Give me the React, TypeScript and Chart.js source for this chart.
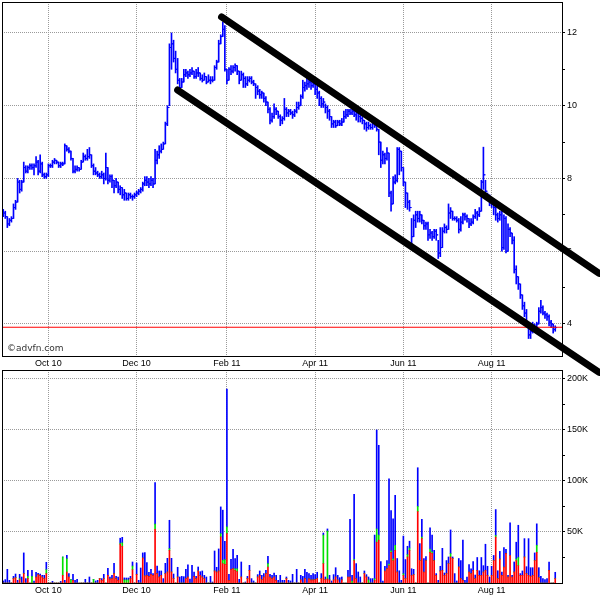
import React, { useEffect, useRef } from 'react';
import { Chart, registerables } from 'chart.js';
Chart.register(...registerables);

// ---- axis / tick data ----
const monthTickIdx = [22, 65, 109, 152, 195, 238];
const monthLabels = ['Oct 10', 'Dec 10', 'Feb 11', 'Apr 11', 'Jun 11', 'Aug 11'];
const priceTickVals = [4, 5, 6, 7, 8, 9, 10, 11, 12];
const volTickVals = [25, 50, 75, 100, 125, 150, 175, 200];
const X_MIN = -0.6;
const X_MAX = 272.3;
const PRICE_MIN = 3.12;
const PRICE_MAX = 12.85;
const VOL_MAX = 208.8;

// ---- price data (daily bars) ----
const firstOpen = 7.0;
const closes = [
  7.05, 6.95, 6.75, 6.85, 6.9, 7.2, 7.35, 7.9, 7.7, 7.9, 8.3, 8.2, 8.3, 8.35, 8.3, 8.35, 8.45, 8.2, 8.4, 8.1, 8.05, 8.1, 8.35,
  8.35, 8.45, 8.5, 8.45, 8.35, 8.4, 8.4, 8.9, 8.8, 8.75, 8.55, 8.2, 8.25, 8.3, 8.25, 8.45, 8.6, 8.55, 8.6, 8.65, 8.35, 8.2, 8.15, 8.1, 8.05, 8.1, 8.0, 8.3, 7.95, 8.05,
  7.95, 7.8, 7.9, 7.7, 7.75, 7.55, 7.6, 7.45, 7.55, 7.5, 7.5, 7.55, 7.6, 7.65, 7.7, 7.85, 7.95, 7.9, 7.85, 7.95, 7.85, 8.5, 8.65, 8.75, 8.8, 8.95, 9.5, 9.95, 11.6,
  11.7, 11.3, 11.0, 10.7, 10.5, 10.65, 10.85, 10.9, 10.85, 10.9, 10.95, 10.8, 10.9, 10.9, 10.75, 10.7, 10.8, 10.65, 10.7, 10.7, 10.7, 11.05, 11.2, 11.7, 11.9, 12.1, 11.0, 10.7, 11.0,
  10.95, 11.05, 11.1, 10.95, 10.7, 10.85, 10.75, 10.6, 10.7, 10.75, 10.65, 10.6, 10.5, 10.4, 10.3, 10.35, 10.2, 10.1, 9.9, 9.6, 9.7, 9.9, 9.85, 9.7, 9.6, 9.65, 9.9, 9.8, 9.85, 9.8, 9.75, 9.85, 9.95, 10.0, 10.25, 10.5, 10.55, 10.6, 10.65, 10.55, 10.6, 10.45, 10.35, 10.2, 10.05, 10.1, 9.95, 9.85, 9.7, 9.5, 9.55, 9.45, 9.55, 9.5, 9.55, 9.7, 9.75, 9.85, 9.8, 9.85, 9.75, 9.8, 9.7, 9.65, 9.6, 9.5, 9.4, 9.45, 9.4, 9.5, 9.45, 9.35, 9.0,
  8.5, 8.65, 8.55, 8.7, 7.6, 7.3, 7.9, 7.95, 8.8, 8.75, 8.3, 7.9, 7.6, 7.35, 7.2, 6.4, 6.85, 7.0, 6.9, 7.0, 6.85, 6.7, 6.75, 6.45, 6.5, 6.4, 6.55, 6.45, 5.95, 6.1, 6.55, 6.65, 6.6, 7.05, 7.1, 6.9, 6.9, 6.85, 6.6, 6.8, 7.0, 6.95, 6.9, 6.75, 6.8, 6.95, 7.05, 7.0, 7.1,
  7.9, 8.1, 7.65, 7.5, 7.4, 7.35, 7.2, 7.0, 6.9, 7.0, 6.1, 6.9, 6.0, 6.6, 6.5, 6.3, 5.5, 5.3, 5.1, 4.8, 4.5, 4.3, 4.0, 3.7, 3.8, 3.95, 3.85, 4.0, 4.35, 4.45, 4.3, 4.25, 4.2, 4.05, 4.0, 3.85, 3.9,
];
const highs = [
  7.15, 7.1, 6.95, 6.9, 6.95, 7.3, 7.4, 8.0, 7.95, 7.95, 8.45, 8.35, 8.35, 8.4, 8.4, 8.4, 8.6, 8.5, 8.65, 8.45, 8.15, 8.15, 8.4,
  8.4, 8.5, 8.55, 8.5, 8.45, 8.45, 8.45, 8.95, 8.9, 8.85, 8.75, 8.55, 8.35, 8.35, 8.3, 8.5, 8.7, 8.65, 8.8, 8.85, 8.65, 8.4, 8.3, 8.2, 8.15, 8.2, 8.15, 8.7, 8.3, 8.1,
  8.1, 7.95, 8.0, 7.9, 7.8, 7.75, 7.7, 7.6, 7.6, 7.6, 7.55, 7.6, 7.65, 7.7, 7.75, 7.9, 8.05, 8.05, 8.0, 8.05, 8.0, 8.8, 8.75, 8.9, 8.95, 9.0, 9.55, 10.0, 11.7,
  12.0, 11.8, 11.5, 11.3, 10.75, 10.75, 11.0, 11.0, 10.95, 11.0, 11.05, 10.95, 11.0, 11.05, 10.9, 10.85, 10.9, 10.8, 10.85, 10.8, 10.8, 11.1, 11.25, 11.8, 11.95, 12.3, 12.2, 11.0, 11.05,
  11.1, 11.1, 11.15, 11.1, 10.95, 10.95, 10.9, 10.8, 10.8, 10.8, 10.8, 10.7, 10.6, 10.55, 10.45, 10.4, 10.35, 10.25, 10.1, 9.95, 9.8, 10.05, 9.95, 9.85, 9.75, 9.7, 10.2, 9.95, 9.9, 9.9, 9.85, 9.9, 10.1, 10.1, 10.3, 10.7, 10.65, 10.75, 10.75, 10.7, 10.65, 10.6, 10.55, 10.4, 10.25, 10.2, 10.05, 10.0, 9.9, 9.7, 9.6, 9.6, 9.6, 9.6, 9.65, 9.85, 9.9, 9.9, 9.9, 9.9, 9.9, 9.85, 9.8, 9.75, 9.7, 9.6, 9.55, 9.55, 9.5, 9.55, 9.55, 9.5, 9.35,
  9.0, 8.75, 8.7, 8.85, 8.7, 7.65, 8.05, 8.1, 8.85, 8.85, 8.75, 8.3, 7.9, 7.6, 7.4, 6.9, 7.0, 7.1, 7.1, 7.1, 7.0, 6.85, 6.8, 6.8, 6.6, 6.55, 6.6, 6.6, 6.3, 6.65, 6.65, 6.75, 6.7, 7.3, 7.2, 7.1, 6.95, 6.95, 6.9, 6.95, 7.05, 7.05, 7.0, 6.9, 6.9, 7.0, 7.15, 7.1, 7.2,
  7.95, 8.86, 7.95, 7.6, 7.55, 7.45, 7.35, 7.25, 7.05, 7.1, 7.1, 7.0, 6.95, 6.75, 6.65, 6.5, 6.4, 5.6, 5.3, 5.1, 4.8, 4.6, 4.4, 4.0, 3.9, 4.05, 4.0, 4.05, 4.45, 4.65, 4.5, 4.35, 4.3, 4.25, 4.1, 4.0, 3.95,
];
const lows = [
  6.95, 6.9, 6.65, 6.7, 6.8, 6.9, 7.15, 7.35, 7.6, 7.65, 7.9, 8.15, 8.15, 8.25, 8.25, 8.1, 8.3, 8.1, 8.15, 8.05, 8.0, 8.0, 8.05,
  8.3, 8.3, 8.4, 8.4, 8.3, 8.3, 8.35, 8.4, 8.75, 8.7, 8.5, 8.15, 8.15, 8.2, 8.2, 8.25, 8.45, 8.5, 8.5, 8.55, 8.3, 8.1, 8.1, 8.05, 8.0, 8.0, 7.85, 7.95, 7.85, 7.9,
  7.75, 7.6, 7.75, 7.6, 7.55, 7.45, 7.4, 7.4, 7.4, 7.45, 7.4, 7.45, 7.5, 7.55, 7.6, 7.65, 7.8, 7.8, 7.75, 7.8, 7.75, 7.85, 8.4, 8.55, 8.7, 8.8, 8.95, 9.45, 10.0,
  11.0, 11.2, 10.9, 10.6, 10.45, 10.5, 10.65, 10.8, 10.75, 10.8, 10.85, 10.75, 10.75, 10.8, 10.7, 10.65, 10.7, 10.6, 10.65, 10.6, 10.65, 10.7, 11.0, 11.2, 11.7, 11.9, 10.95, 10.6, 10.7,
  10.85, 10.9, 10.95, 10.85, 10.6, 10.7, 10.5, 10.5, 10.55, 10.65, 10.6, 10.55, 10.2, 10.3, 10.2, 10.2, 10.1, 10.0, 9.8, 9.5, 9.55, 9.65, 9.75, 9.65, 9.45, 9.5, 9.6, 9.7, 9.7, 9.75, 9.65, 9.7, 9.8, 9.9, 10.0, 10.2, 10.4, 10.45, 10.5, 10.45, 10.5, 10.3, 10.2, 10.0, 9.95, 9.95, 9.8, 9.65, 9.6, 9.4, 9.4, 9.4, 9.45, 9.45, 9.45, 9.55, 9.65, 9.7, 9.75, 9.75, 9.7, 9.6, 9.55, 9.55, 9.5, 9.35, 9.3, 9.35, 9.35, 9.35, 9.4, 9.3, 8.65,
  8.3, 8.4, 8.4, 8.5, 7.5, 7.1, 7.3, 7.85, 7.9, 8.1, 8.2, 7.8, 7.2, 7.15, 7.1, 6.2, 6.4, 6.65, 6.8, 6.8, 6.75, 6.6, 6.6, 6.3, 6.35, 6.3, 6.35, 6.3, 5.8, 5.85, 6.1, 6.5, 6.5, 6.6, 6.9, 6.85, 6.85, 6.8, 6.5, 6.55, 6.75, 6.85, 6.8, 6.65, 6.7, 6.75, 6.9, 6.85, 6.95,
  7.1, 7.7, 7.55, 7.4, 7.25, 7.2, 7.0, 6.85, 6.8, 6.85, 6.0, 6.05, 5.95, 6.0, 6.4, 6.2, 5.4, 5.1, 4.95, 4.7, 4.4, 4.2, 3.95, 3.6, 3.6, 3.75, 3.8, 3.85, 4.0, 4.3, 4.25, 4.15, 4.1, 3.95, 3.9, 3.75, 3.8,
];
const lastPrice = 3.91;

// trend channel (data coordinates: bar index, price)
const upperChannelX = [106.4, 290.4];
const upperChannelY = [12.44, 5.39];
const lowerChannelX = [85.0, 290.4];
const lowerChannelY = [10.43, 2.67];

// ---- volume data (thousands) ----
const volTotal = [
  2, 3.3, 13.4, 2.6, 0, 6.5, 8.8, 2.6, 8.5, 5.9,
  29.5, 4.3, 12.4, 0, 12.4, 2.0, 10.5, 9.5, 8.8, 7.5,
  7.5, 20.3, 0, 0, 1.6, 0, 0, 0, 1.6, 25.5,
  2.6, 27.2, 9.2, 3.3, 8.5, 2.6, 3.6, 0, 0, 0,
  3.6, 0, 5.9, 0, 3.6, 2.0, 2.6, 4.3, 4.3, 8.5,
  0, 14.4, 5.9, 7.5, 19.3, 6.5, 5.9, 43.9, 44.8, 5,
  4.9, 4.9, 6.5, 20.6, 0, 19.6, 2.6, 14.7, 29.5, 29.8,
  20, 10.5, 13.4, 9.2, 98.5, 16.7, 11.8, 11.8, 4.3, 19.3,
  24.2, 61.5, 24.2, 8.8, 0, 15.4, 5.9, 6.5, 6.2, 13.4,
  17.7, 3.9, 17.3, 10.8, 6.5, 15.7, 11.1, 11.8, 7.5, 5.9,
  0, 6.5, 1.0, 31.4, 15.4, 33.4, 74.6, 71.4, 40.9, 190,
  8.5, 23.2, 33.1, 24, 27.2, 3.6, 20.6, 0, 1.0, 6.5,
  17.3, 4.3, 2.0, 0, 8.2, 11.8, 7.5, 9.2, 12.4, 26.2,
  8.5, 7.5, 9.8, 7.5, 2.6, 7.5, 2.6, 2.6, 5.9, 2.6,
  2.0, 8.5, 0, 13.4, 0, 7.5, 6.5, 13.4, 10.5, 9.2,
  7.5, 9.2, 8.2, 10.5, 0, 9.2, 49, 5.9, 53, 7.5,
  2.0, 8.2, 15, 7.5, 5.2, 5.9, 0, 0, 12.4, 62.5,
  7.5, 87, 19, 10.8, 5.9, 0, 11.8, 8.2, 5.9, 4.3,
  4.3, 47, 150, 135, 21, 2.0, 16.4, 22, 102, 71,
  63, 86, 24, 12, 2.6, 46, 23, 36, 41, 14,
  13.4, 0, 113, 38.6, 62.5, 24, 26, 0, 54, 47,
  32, 9.2, 2.6, 16.4, 34, 9.8, 22, 25.5, 52, 25.5,
  9.2, 2.0, 24, 22, 42, 2.6, 5.9, 18, 14, 21,
  7.8, 25, 12, 25, 17, 38, 16.4, 5.9, 16.4, 27,
  72, 12, 31, 10.8, 34.7, 33, 7.5, 59, 7.5, 20.6,
  40, 56.6, 9.2, 11.8, 43.5, 16, 43.5, 15, 15, 29.5,
  58, 15, 6.5, 4.3, 3.3, 4.3, 20.6, 0, 0, 10.5,
];
const volRed = [
  0, 0, 0, 0, 0, 4.3, 5.2, 0, 3.3, 0,
  9.2, 0, 4.3, 0, 0, 0, 5.9, 8.2, 7.5, 5.9,
  4.3, 9.2, 0, 0, 0, 0, 0, 0, 0, 7.5,
  0, 10.8, 5.9, 0, 2.6, 0, 0, 0, 0, 0,
  0, 0, 0, 0, 0, 0, 0, 4.3, 2.6, 4.3,
  0, 7.5, 3.9, 4.3, 9.2, 4.3, 2.6, 38, 36, 0,
  0, 0, 4.3, 13, 0, 8.5, 0, 0, 24.5, 6.9,
  7.5, 6.5, 8.5, 7.5, 52.7, 9.2, 5.9, 7.5, 0, 9.2,
  10.8, 32, 10.8, 4.3, 0, 5.9, 0, 0, 0, 4.3,
  5.9, 0, 0, 6.5, 4.3, 11.8, 7.5, 5.9, 4.3, 0,
  0, 0, 0, 11.8, 10.8, 11.8, 45.2, 19, 18.3, 48.4,
  2.6, 13.4, 14.1, 12.4, 11.1, 0, 5.9, 0, 0, 4.3,
  12.4, 0, 0, 0, 5.9, 7.5, 3.3, 5.9, 9.2, 15.7,
  5.9, 4.3, 5.9, 2.6, 0, 0, 0, 0, 4.3, 0,
  0, 0, 0, 0, 0, 3, 0, 4.3, 0, 4,
  3, 3, 3.3, 4.3, 0, 4.3, 19, 3.3, 4, 3,
  0, 3, 5.9, 3, 0, 3, 0, 0, 5.9, 5.9,
  0, 22, 4.3, 0, 0, 0, 9.2, 5.9, 0, 0,
  0, 2.6, 40, 42, 0, 0, 11.8, 14.1, 17, 30,
  22, 32, 10.8, 0, 0, 7.5, 4.3, 25.5, 32, 7.5,
  8.2, 0, 70, 22, 43.5, 10.8, 22, 0, 30, 29,
  22, 7.5, 0, 11.8, 12.4, 7.5, 9.2, 19, 25.5, 24,
  0, 0, 15.7, 4.3, 2.6, 0, 0, 10.8, 9.2, 12.4,
  4.3, 12.4, 7.5, 7.5, 10.8, 12.4, 7.5, 0, 7.5, 22,
  45, 4.3, 23.5, 7.5, 15.7, 29, 5.9, 27, 5.9, 10.8,
  22, 17, 7.5, 7.5, 25.5, 9.2, 7.5, 6.5, 7.5, 22,
  30, 5.2, 0, 0, 0, 0, 12.4, 0, 0, 4.3,
];
const volGreen = [
  0, 0, 0, 0, 0, 0, 0, 0, 1, 0,
  0, 0, 2.3, 0, 6.5, 0, 0, 0, 0, 0,
  0, 3.9, 0, 0, 0, 0, 0, 0, 0, 18,
  0, 13, 0, 3.3, 0, 0, 0, 0, 0, 0,
  0, 0, 0, 0, 3.6, 0, 0, 0, 0, 0,
  0, 0, 0, 0, 0, 0, 0, 1, 3.3, 3,
  3, 3, 0, 3.6, 0, 0, 0, 0, 0, 0,
  0, 0, 0, 0, 5, 0, 0, 0, 0, 0,
  0, 1.7, 0, 0, 0, 0, 0, 0, 0, 0,
  0, 0, 0, 0, 0, 0, 0, 0, 0, 0,
  0, 0, 0, 0, 0, 0, 3.2, 3.3, 4.6, 6.6,
  0, 0, 0, 1.6, 2.9, 0, 0, 0, 0, 0,
  0, 0, 0, 0, 0, 0, 0, 0, 0, 3.3,
  0, 0, 0, 0, 0, 0, 0, 0, 0, 0,
  0, 0, 0, 0, 0, 0, 0, 0, 0, 0,
  0, 0, 0, 0, 0, 0, 28, 0, 47, 0,
  0, 0, 0, 0, 0, 0, 0, 0, 0, 0,
  2, 1, 0, 0, 0, 0, 0, 0, 3, 0,
  0, 1.6, 13, 5, 0, 0, 0, 0, 1.6, 1.6,
  1.6, 5, 0, 0, 0, 1.6, 0, 2.3, 2.3, 0,
  0, 0, 5, 0, 1.6, 0, 0, 0, 3.3, 1.6,
  0, 0, 0, 0, 0, 0, 0, 0, 3.3, 0,
  0, 0, 0, 0, 0, 0, 0, 0, 0, 0,
  0, 0, 0, 0, 0, 0, 0, 0, 0, 0,
  1.6, 0, 0, 0, 0, 0, 0, 0, 0, 0,
  1.6, 8, 0, 0, 0, 0, 0, 0, 0, 0,
  7, 0, 0, 0, 0, 0, 0, 0, 0, 0,
];

// ---- styles ----
const BLUE = '#0000ff';
const RED = '#ff0000';
const GREEN = '#00e000';
const GRID = '#9a9a9a';
const TICK_FONT = { family: "'Liberation Sans', Arial, sans-serif", size: 9 };

const framePlugin = {
  id: 'frame',
  afterDraw(chart: any) {
    const { ctx, chartArea } = chart;
    const l = Math.floor(chartArea.left) + 0.5;
    const r = Math.floor(chartArea.right) + 0.5;
    const t = Math.floor(chartArea.top) + 0.5;
    const b = Math.floor(chartArea.bottom) + 0.5;
    ctx.save();
    ctx.strokeStyle = '#000';
    ctx.lineWidth = 1;
    ctx.strokeRect(l, t, r - l, b - t);
    ctx.restore();
  },
};

const watermarkPlugin = {
  id: 'watermark',
  afterDraw(chart: any) {
    const { ctx, chartArea } = chart;
    ctx.save();
    ctx.fillStyle = '#333';
    ctx.font = "9px 'DejaVu Sans', Verdana, sans-serif";
    ctx.textBaseline = 'alphabetic';
    ctx.fillText('©advfn.com', chartArea.left + 5, chartArea.bottom - 5);
    ctx.restore();
  },
};

function zeroPadding(s: any) {
  s.paddingTop = 0;
  s.paddingBottom = 0;
  s.paddingLeft = 0;
  s.paddingRight = 0;
}

function monthLabel(v: number) {
  const k = monthTickIdx.indexOf(v);
  return k >= 0 ? monthLabels[k] : '';
}

function xScale(extra: any = {}) {
  return {
    type: 'linear',
    min: X_MIN,
    max: X_MAX,
    offset: false,
    afterBuildTicks: (s: any) => {
      s.ticks = monthTickIdx.map((v) => ({ value: v }));
    },
    afterFit: (s: any) => {
      s.height = 14;
      zeroPadding(s);
    },
    ticks: {
      callback: (v: any) => monthLabel(Number(v)),
      font: TICK_FONT,
      color: '#000',
      maxRotation: 0,
      autoSkip: false,
      padding: 2,
    },
    grid: { color: GRID, drawTicks: false, offset: false, lineWidth: 1 },
    border: { display: false, dash: [1, 1] },
    ...extra,
  };
}

function yScale(extra: any) {
  return {
    position: 'right',
    afterFit: (s: any) => {
      s.width = 38;
      zeroPadding(s);
    },
    border: { display: false, dash: [1, 1] },
    ...extra,
  };
}

export default function App() {
  const priceRef = useRef<HTMLCanvasElement>(null);
  const volRef = useRef<HTMLCanvasElement>(null);

  useEffect(() => {
    const idx = closes.map((_, i) => i);
    const opens = closes.map((_, i) => (i === 0 ? firstOpen : closes[i - 1]));

    const priceChart = new Chart(priceRef.current as HTMLCanvasElement, {
      type: 'bar',
      data: {
        datasets: [
          {
            type: 'line',
            data: upperChannelX.map((x, k) => ({ x, y: upperChannelY[k] })),
            borderColor: '#000',
            borderWidth: 7,
            borderCapStyle: 'round',
            pointRadius: 0,
            clip: false,
            order: 0,
          } as any,
          {
            type: 'line',
            data: lowerChannelX.map((x, k) => ({ x, y: lowerChannelY[k] })),
            borderColor: '#000',
            borderWidth: 7,
            borderCapStyle: 'round',
            pointRadius: 0,
            clip: false,
            order: 0,
          } as any,
          {
            type: 'line',
            data: [
              { x: X_MIN, y: lastPrice },
              { x: X_MAX, y: lastPrice },
            ],
            borderColor: RED,
            borderWidth: 1.2,
            pointRadius: 0,
            order: 1,
          } as any,
          {
            type: 'scatter',
            data: idx.map((i) => ({ x: i - 0.5, y: opens[i] })),
            pointStyle: 'line',
            pointRadius: 0.9,
            pointBorderColor: BLUE,
            pointBackgroundColor: BLUE,
            pointBorderWidth: 1,
            order: 2,
          } as any,
          {
            type: 'scatter',
            data: idx.map((i) => ({ x: i + 0.5, y: closes[i] })),
            pointStyle: 'line',
            pointRadius: 0.9,
            pointBorderColor: BLUE,
            pointBackgroundColor: BLUE,
            pointBorderWidth: 1,
            order: 2,
          } as any,
          {
            type: 'bar',
            data: idx.map((i) => ({ x: i, y: [lows[i], highs[i]] })),
            backgroundColor: BLUE,
            borderWidth: 0,
            barThickness: 1,
            grouped: false,
            order: 3,
          } as any,
        ],
      },
      options: {
        animation: false,
        responsive: false,
        maintainAspectRatio: false,
        events: [],
        layout: { autoPadding: false, padding: { left: 2, top: 2, right: 0, bottom: 230 } },
        plugins: { legend: { display: false }, tooltip: { enabled: false } },
        scales: {
          x: xScale(),
          y: yScale({
            min: PRICE_MIN,
            max: PRICE_MAX,
            afterBuildTicks: (s: any) => {
              s.ticks = priceTickVals.map((v) => ({ value: v }));
            },
            ticks: {
              callback: (v: any) => (Number(v) % 2 === 0 ? String(v) : ''),
              font: TICK_FONT,
              color: '#000',
              padding: 2,
            },
            grid: {
              color: (c: any) => (c.tick && c.tick.value % 2 === 0 ? GRID : 'rgba(0,0,0,0)'),
              tickColor: '#000',
              tickLength: 3,
              drawTicks: true,
            },
          }),
        } as any,
      },
      plugins: [framePlugin, watermarkPlugin],
    } as any);

    const volChart = new Chart(volRef.current as HTMLCanvasElement, {
      type: 'bar',
      data: {
        datasets: [
          {
            data: idx.map((i) => ({ x: i, y: volRed[i] })),
            backgroundColor: RED,
            borderWidth: 0,
            barThickness: 1,
          },
          {
            data: idx.map((i) => ({ x: i, y: volGreen[i] })),
            backgroundColor: GREEN,
            borderWidth: 0,
            barThickness: 1,
          },
          {
            data: idx.map((i) => ({ x: i, y: Math.max(0, volTotal[i] - volRed[i] - volGreen[i]) })),
            backgroundColor: BLUE,
            borderWidth: 0,
            barThickness: 1,
          },
        ] as any,
      },
      options: {
        animation: false,
        responsive: false,
        maintainAspectRatio: false,
        events: [],
        layout: { autoPadding: false, padding: { left: 2, top: 370, right: 0, bottom: 3 } },
        plugins: { legend: { display: false }, tooltip: { enabled: false } },
        scales: {
          x: xScale({ stacked: true }),
          y: yScale({
            stacked: true,
            min: 0,
            max: VOL_MAX,
            afterBuildTicks: (s: any) => {
              s.ticks = volTickVals.map((v) => ({ value: v }));
            },
            ticks: {
              callback: (v: any) => (Number(v) % 50 === 0 ? `${v}K` : ''),
              font: TICK_FONT,
              color: '#000',
              padding: 2,
            },
            grid: {
              color: (c: any) => (c.tick && c.tick.value % 50 === 0 ? GRID : 'rgba(0,0,0,0)'),
              tickColor: '#000',
              tickLength: 3,
              drawTicks: true,
            },
          }),
        } as any,
      },
      plugins: [framePlugin],
    } as any);

    return () => {
      priceChart.destroy();
      volChart.destroy();
    };
  }, []);

  return (
    <div style={{ position: 'relative', width: 600, height: 600, background: '#fff' }}>
      <style>{'body{margin:0;background:#fff;}'}</style>
      <canvas
        ref={volRef}
        width={600}
        height={600}
        style={{ position: 'absolute', left: 0, top: 0, width: 600, height: 600 }}
      />
      <canvas
        ref={priceRef}
        width={600}
        height={600}
        style={{ position: 'absolute', left: 0, top: 0, width: 600, height: 600 }}
      />
    </div>
  );
}
